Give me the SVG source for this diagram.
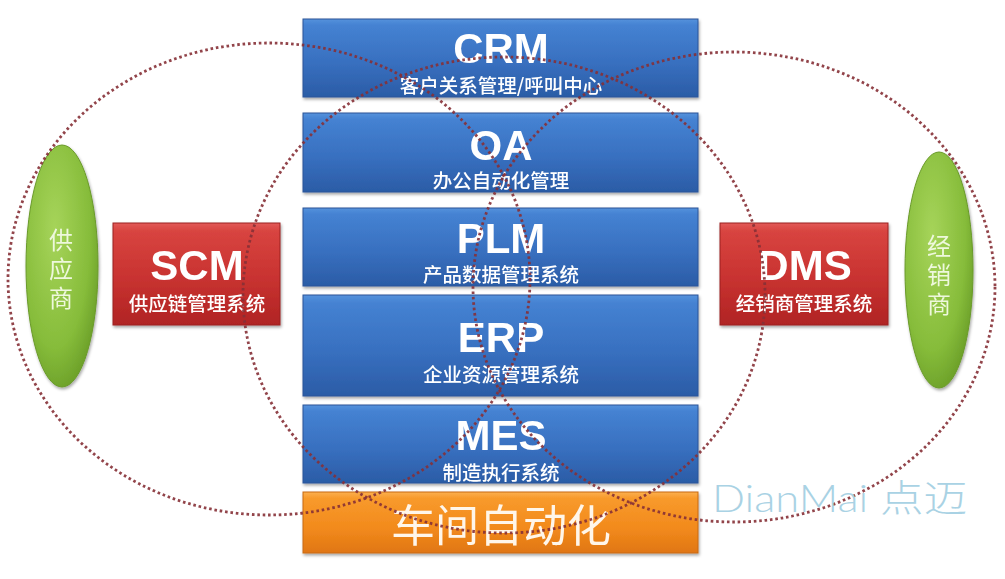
<svg xmlns="http://www.w3.org/2000/svg" width="1005" height="579" viewBox="0 0 1005 579">
<defs>
<linearGradient id="gBlue" x1="0" y1="0" x2="0" y2="1">
<stop offset="0" stop-color="#5592dc"/>
<stop offset="0.08" stop-color="#4582d2"/>
<stop offset="0.55" stop-color="#3870c0"/>
<stop offset="1" stop-color="#2b5ca6"/>
</linearGradient>
<linearGradient id="gRed" x1="0" y1="0" x2="0" y2="1">
<stop offset="0" stop-color="#e25a58"/>
<stop offset="0.08" stop-color="#d84440"/>
<stop offset="0.55" stop-color="#c83230"/>
<stop offset="1" stop-color="#b02424"/>
</linearGradient>
<linearGradient id="gOrange" x1="0" y1="0" x2="0" y2="1">
<stop offset="0" stop-color="#fbb050"/>
<stop offset="0.1" stop-color="#f89a2c"/>
<stop offset="0.6" stop-color="#f28a1c"/>
<stop offset="1" stop-color="#e07614"/>
</linearGradient>
<radialGradient id="gGreen" cx="0.4" cy="0.35" r="0.7">
<stop offset="0" stop-color="#a6d45a"/>
<stop offset="0.7" stop-color="#86bc3a"/>
<stop offset="1" stop-color="#6a9e28"/>
</radialGradient>
<filter id="sh" x="-10%" y="-20%" width="120%" height="150%">
<feDropShadow dx="1" dy="2" stdDeviation="1.5" flood-color="#000" flood-opacity="0.35"/>
</filter>
</defs>
<style>
.blue{fill:url(#gBlue);stroke:#2a5598;stroke-width:1}
.red{fill:url(#gRed);stroke:#9c2020;stroke-width:1}
.orange{fill:url(#gOrange);stroke:#c86a10;stroke-width:1}
.green{fill:url(#gGreen);stroke:#6a9a2a;stroke-width:1}
.big{font-family:"Liberation Sans",Arial,sans-serif;font-weight:bold;font-size:42px;fill:#ffffff;text-anchor:middle}
.sub{font-family:"Noto Sans CJK SC","Liberation Sans",sans-serif;font-size:19.5px;font-weight:500;fill:#ffffff;text-anchor:middle}
.vert{font-family:"Noto Sans CJK SC",sans-serif;font-size:24px;fill:#eef8dc;text-anchor:middle;writing-mode:vertical-rl;letter-spacing:5px}
.ring{fill:none;stroke:#863036;stroke-width:2.8;stroke-dasharray:2.6 2.8;opacity:0.9}
</style>
<rect width="1005" height="579" fill="#ffffff"/>

<g id="crm" filter="url(#sh)">
<rect class="blue" x="303" y="19" width="395" height="78"/>
<text class="big" x="501" y="63">CRM</text>
<text class="sub" x="501" y="93">客户关系管理/呼叫中心</text>
</g>
<g id="oa" filter="url(#sh)">
<rect class="blue" x="303" y="113" width="395" height="79"/>
<text class="big" x="501" y="160">OA</text>
<text class="sub" x="501" y="188">办公自动化管理</text>
</g>
<g id="plm" filter="url(#sh)">
<rect class="blue" x="303" y="208" width="395" height="78"/>
<text class="big" x="501" y="253">PLM</text>
<text class="sub" x="501" y="282">产品数据管理系统</text>
</g>
<g id="erp" filter="url(#sh)">
<rect class="blue" x="303" y="295" width="395" height="101"/>
<text class="big" x="501" y="352">ERP</text>
<text class="sub" x="501" y="382">企业资源管理系统</text>
</g>
<g id="mes" filter="url(#sh)">
<rect class="blue" x="303" y="405" width="395" height="78"/>
<text class="big" x="501" y="450">MES</text>
<text class="sub" x="501" y="480">制造执行系统</text>
</g>
<g id="workshop" filter="url(#sh)">
<rect class="orange" x="303" y="492" width="395" height="61"/>
<text x="501" y="542" style="font-family:'Noto Sans CJK SC',sans-serif;font-size:44px;fill:#fff6ea;text-anchor:middle">车间自动化</text>
</g>
<g id="scm" filter="url(#sh)">
<rect class="red" x="113" y="223" width="167" height="102"/>
<text class="big" x="197" y="280">SCM</text>
<text class="sub" x="197" y="311">供应链管理系统</text>
</g>
<g id="dms" filter="url(#sh)">
<rect class="red" x="720" y="223" width="168" height="102"/>
<text class="big" x="805" y="280">DMS</text>
<text class="sub" x="804" y="311">经销商管理系统</text>
</g>
<g id="supplier" filter="url(#sh)">
<ellipse class="green" cx="62" cy="266" rx="36" ry="121"/>
<text class="vert" x="61" y="271">供应商</text>
</g>
<g id="dealer" filter="url(#sh)">
<ellipse class="green" cx="939" cy="270" rx="34" ry="118"/>
<text class="vert" x="939" y="277">经销商</text>
</g>

<g id="connectors">
<ellipse class="ring" cx="269" cy="279" rx="261" ry="236"/>
<ellipse class="ring" cx="734" cy="287" rx="261" ry="235"/>
<ellipse class="ring" cx="504" cy="295" rx="261" ry="238"/>
</g>

<text x="712" y="512" textLength="255" lengthAdjust="spacingAndGlyphs" style="font-family:Lato,'Open Sans','Noto Sans CJK SC',sans-serif;font-weight:300;font-size:37px;fill:#a9d2e4">DianMai 点迈</text>
</svg>
